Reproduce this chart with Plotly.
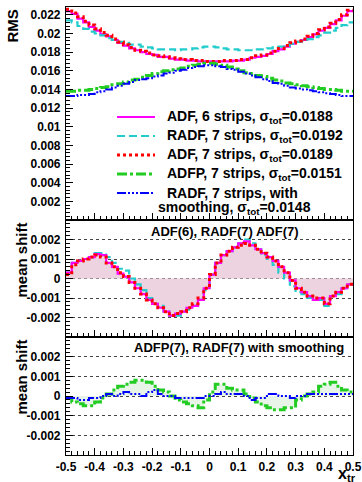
import numpy as np
import plotly.graph_objects as go

# ---------------- data (50 bins from -0.5 to 0.5) ----------------
n_bins = 50
x_lo, x_hi = -0.5, 0.5

rms_adf6 = [0.0224, 0.0221, 0.0216, 0.0212, 0.0207, 0.0203, 0.0199, 0.0197, 0.0193, 0.0190,
            0.0187, 0.0184, 0.0182, 0.0180, 0.0178, 0.0177, 0.0175, 0.0175, 0.0173, 0.0172,
            0.0172, 0.0171, 0.0171, 0.0170, 0.0170, 0.0170, 0.0170, 0.0170, 0.0170, 0.0171,
            0.0171, 0.0172, 0.0174, 0.0175, 0.0176, 0.0178, 0.0181, 0.0183, 0.0186, 0.0189,
            0.0191, 0.0193, 0.0196, 0.0199, 0.0203, 0.0206, 0.0210, 0.0214, 0.0219, 0.0224]
rms_radf7 = [0.0214, 0.0212, 0.0208, 0.0205, 0.0202, 0.0200, 0.0198, 0.0195, 0.0193, 0.0191,
             0.0190, 0.0188, 0.0188, 0.0186, 0.0185, 0.0184, 0.0183, 0.0183, 0.0183, 0.0182,
             0.0183, 0.0183, 0.0184, 0.0185, 0.0186, 0.0186, 0.0185, 0.0184, 0.0183, 0.0183,
             0.0182, 0.0182, 0.0182, 0.0183, 0.0183, 0.0184, 0.0185, 0.0186, 0.0187, 0.0189,
             0.0191, 0.0192, 0.0194, 0.0196, 0.0198, 0.0201, 0.0203, 0.0206, 0.0209, 0.0212]
rms_adf7 = [0.0226, 0.0222, 0.0218, 0.0213, 0.0209, 0.0205, 0.0201, 0.0198, 0.0194, 0.0191,
            0.0188, 0.0185, 0.0182, 0.0181, 0.0179, 0.0177, 0.0176, 0.0175, 0.0174, 0.0173,
            0.0172, 0.0172, 0.0171, 0.0171, 0.0170, 0.0170, 0.0170, 0.0171, 0.0171, 0.0171,
            0.0172, 0.0172, 0.0174, 0.0176, 0.0177, 0.0179, 0.0181, 0.0184, 0.0187, 0.0190,
            0.0192, 0.0194, 0.0197, 0.0200, 0.0204, 0.0207, 0.0211, 0.0215, 0.0220, 0.0225]
rms_adfp7 = [0.0138, 0.0138, 0.0139, 0.0139, 0.0140, 0.0141, 0.0142, 0.0143, 0.0145, 0.0146,
             0.0148, 0.0150, 0.0151, 0.0153, 0.0155, 0.0157, 0.0159, 0.0160, 0.0161, 0.0162,
             0.0163, 0.0165, 0.0166, 0.0167, 0.0168, 0.0168, 0.0167, 0.0166, 0.0164, 0.0162,
             0.0160, 0.0158, 0.0157, 0.0155, 0.0154, 0.0152, 0.0150, 0.0149, 0.0147, 0.0146,
             0.0145, 0.0144, 0.0143, 0.0142, 0.0141, 0.0140, 0.0140, 0.0139, 0.0138, 0.0138]
rms_radf7s = [0.0133, 0.0133, 0.0134, 0.0134, 0.0135, 0.0137, 0.0138, 0.0140, 0.0142, 0.0144,
              0.0146, 0.0148, 0.0150, 0.0151, 0.0152, 0.0154, 0.0155, 0.0157, 0.0158, 0.0160,
              0.0161, 0.0163, 0.0164, 0.0165, 0.0166, 0.0166, 0.0165, 0.0164, 0.0162, 0.0161,
              0.0159, 0.0157, 0.0155, 0.0153, 0.0151, 0.0149, 0.0147, 0.0146, 0.0144, 0.0142,
              0.0141, 0.0140, 0.0139, 0.0138, 0.0137, 0.0136, 0.0135, 0.0134, 0.0133, 0.0133]

shift_adf6 = [0.0003, 0.0008, 0.0009, 0.0010, 0.0011, 0.00125, 0.0012, 0.0008, 0.0006, 0.00025,
              0.0001, -0.0002, -0.0005, -0.0008, -0.0011, -0.0013, -0.0015, -0.0017, -0.0019, -0.0018,
              -0.0017, -0.0015, -0.0014, -0.0011, -0.0005, 0.0002, 0.0008, 0.0012, 0.0014, 0.0016,
              0.0018, 0.0019, 0.0017, 0.0015, 0.0013, 0.0011, 0.0009, 0.0006, 0.0003, -0.0001,
              -0.0005, -0.0007, -0.0009, -0.0011, -0.0010, -0.0013, -0.0009, -0.0007, -0.0005, -0.0003]
shift_radf7 = [0.0003, 0.0008, 0.0009, 0.0010, 0.0011, 0.0013, 0.0013, 0.0011, 0.0008, 0.0005,
               0.0004, 0.0000, -0.0003, -0.0006, -0.0010, -0.0013, -0.0014, -0.0017, -0.0019, -0.0019,
               -0.0017, -0.0016, -0.0014, -0.0011, -0.0006, 0.0002, 0.0008, 0.0012, 0.0014, 0.0016,
               0.0018, 0.0020, 0.0018, 0.0015, 0.0012, 0.0010, 0.0007, 0.0003, 0.0000, -0.0004,
               -0.0007, -0.0008, -0.0010, -0.0011, -0.0011, -0.0014, -0.0009, -0.0008, -0.0005, -0.0003]
shift_adf7 = [0.0002, 0.0007, 0.0009, 0.0010, 0.0011, 0.0012, 0.0011, 0.0008, 0.0006, 0.0003,
              0.0001, -0.0002, -0.0005, -0.0008, -0.0011, -0.0013, -0.0015, -0.0017, -0.0019, -0.0018,
              -0.0017, -0.0015, -0.0013, -0.0010, -0.0005, 0.0002, 0.0008, 0.0012, 0.0014, 0.0016,
              0.0017, 0.0018, 0.0017, 0.0015, 0.0013, 0.0011, 0.0009, 0.0006, 0.0003, -0.0001,
              -0.0005, -0.0007, -0.0009, -0.0010, -0.0010, -0.0013, -0.0009, -0.0007, -0.0005, -0.0003]
shift_adfp7 = [-0.0001, -0.0003, -0.0004, -0.0005, -0.0005, -0.0003, -0.0001, 0.0001, 0.0003, 0.0005,
               0.0006, 0.0007, 0.0008, 0.0008, 0.0007, 0.0005, 0.0003, 0.0002, 0.0000, -0.0002,
               -0.0003, -0.0004, -0.0005, -0.0006, -0.0002, 0.0002, 0.0006, 0.0006, 0.0004, 0.0003,
               0.0003, 0.0001, -0.0001, -0.0003, -0.0005, -0.0006, -0.0007, -0.0007, -0.0006, -0.0006,
               -0.0002, 0.0000, 0.0001, 0.0002, 0.0005, 0.0006, 0.0007, 0.0005, 0.0003, 0.0002]
shift_radf7s = [-0.0001, -0.0001, -0.0002, -0.0002, -0.0001, -0.0001, 0.0000, 0.0001, 0.0000, 0.0001,
                0.0002, 0.0001, 0.0001, 0.0000, 0.0002, 0.0003, 0.0001, 0.0000, 0.0000, -0.0001,
                -0.0001, -0.0001, -0.0001, -0.0001, 0.0000, 0.0000, 0.0001, 0.0002, 0.0001, 0.0001,
                0.0001, 0.0000, -0.0002, -0.0001, -0.0001, 0.0001, 0.0001, 0.0000, 0.0000, -0.0001,
                0.0000, 0.0000, 0.0001, 0.0001, 0.0001, 0.0001, 0.0001, 0.0001, 0.0001, 0.0001]

legend_names = [
    "ADF, 6 strips, σ<sub>tot</sub>=0.0188",
    "RADF, 7 strips, σ<sub>tot</sub>=0.0192",
    "ADF, 7 strips, σ<sub>tot</sub>=0.0189",
    "ADFP, 7 strips, σ<sub>tot</sub>=0.0151",
    "RADF, 7 strips, with",
]
legend_cont = "smoothing, σ<sub>tot</sub>=0.0148"
panel2_label = "ADF(6), RADF(7) ADF(7)"
panel3_label = "ADFP(7), RADF(7) with smoothing"
rms_ticks = [0.002, 0.004, 0.006, 0.008, 0.01, 0.012, 0.014, 0.016, 0.018, 0.02, 0.022]
rms_ticktext = ["0.002", "0.004", "0.006", "0.008", "0.01", "0.012", "0.014", "0.016", "0.018", "0.02", "0.022"]
shift_ticks = [-0.002, -0.001, 0, 0.001, 0.002]
shift_ticktext = ["-0.002", "-0.001", "0", "0.001", "0.002"]
x_ticks = [-0.5, -0.4, -0.3, -0.2, -0.1, 0, 0.1, 0.2, 0.3, 0.4, 0.5]
x_ticktext = ["-0.5", "-0.4", "-0.3", "-0.2", "-0.1", "0", "0.1", "0.2", "0.3", "0.4", "0.5"]

# ---------------- helpers ----------------
edges = np.linspace(x_lo, x_hi, n_bins + 1)


def step_y(v):
    return list(v) + [v[-1]]


C_MAG = "#ff00ff"
C_CYAN = "#22cccc"
C_RED = "#ff0000"
C_GREEN = "#22cc22"
C_BLUE = "#0000ff"
FONT = "Liberation Sans"

styles = [
    dict(color=C_MAG, width=2.2, dash="solid"),
    dict(color=C_CYAN, width=2.2, dash="8px,4px"),
    dict(color=C_RED, width=3, dash="3px,3px"),
    dict(color=C_GREEN, width=3, dash="10px,3px,3px,3px"),
    dict(color=C_BLUE, width=2, dash="9px,2px,2px,2px,2px,2px,2px,2px"),
]

fig = go.Figure()

# top panel: RMS
for vals, st, name in zip([rms_adf6, rms_radf7, rms_adf7, rms_adfp7, rms_radf7s], styles, legend_names):
    fig.add_trace(go.Scatter(x=edges, y=step_y(vals), mode="lines", line_shape="hv",
                             line=st, name=name, showlegend=False, xaxis="x", yaxis="y"))

# middle panel
fig.add_trace(go.Scatter(x=edges, y=step_y(shift_adf6), mode="lines", line_shape="hv",
                         line=dict(width=0), fill="tozeroy", fillcolor="#ecd3df",
                         showlegend=False, hoverinfo="skip", xaxis="x2", yaxis="y2"))
for vals, st in zip([shift_radf7, shift_adf6, shift_adf7], [styles[1], styles[0], styles[2]]):
    fig.add_trace(go.Scatter(x=edges, y=step_y(vals), mode="lines", line_shape="hv",
                             line=st, showlegend=False, xaxis="x2", yaxis="y2"))

# bottom panel
fig.add_trace(go.Scatter(x=edges, y=step_y(shift_adfp7), mode="lines", line_shape="hv",
                         line=dict(width=0), fill="tozeroy", fillcolor="#e8f4e8",
                         showlegend=False, hoverinfo="skip", xaxis="x3", yaxis="y3"))
for vals, st in zip([shift_adfp7, shift_radf7s], [styles[3], styles[4]]):
    fig.add_trace(go.Scatter(x=edges, y=step_y(vals), mode="lines", line_shape="hv",
                             line=st, showlegend=False, xaxis="x3", yaxis="y3"))

# ---------------- layout ----------------
H_PLOT = 448.0
W_PLOT = 287.0
d_bot = (0.0, 118 / H_PLOT)
d_mid = (118 / H_PLOT, 235 / H_PLOT)
d_top = (235 / H_PLOT, 1.0)


def px_x(px):
    return (px - 66) / W_PLOT


def px_y(py):
    return 1 - (py - 7) / H_PLOT


tickfont = dict(family=FONT, size=12, color="black", weight="bold")


def xax(anchor, labels):
    return dict(domain=[0, 1], anchor=anchor, range=[x_lo, x_hi], tickvals=x_ticks,
                ticktext=x_ticktext, showticklabels=labels, ticks="inside", ticklen=7,
                tickwidth=1, tickcolor="black", automargin=False,
                minor=dict(dtick=0.02, ticklen=3.5, ticks="inside", tickcolor="black"),
                showline=True, linecolor="black", linewidth=1.2, mirror=True,
                showgrid=False, zeroline=False, tickfont=tickfont)


def yax(anchor, domain, rng, tv, tt, grid, mdt):
    return dict(domain=list(domain), anchor=anchor, range=rng, tickvals=tv, ticktext=tt,
                ticks="inside", ticklen=7, tickwidth=1, tickcolor="black", automargin=False,
                minor=dict(dtick=mdt, ticklen=3.5, ticks="inside", tickcolor="black", showgrid=False),
                showline=True, linecolor="black", linewidth=1.2, mirror=True,
                showgrid=grid, gridcolor="#444444", griddash="dot", gridwidth=1,
                zeroline=False, tickfont=tickfont, ticklabelstandoff=2)


fig.update_layout(
    width=362, height=482,
    margin=dict(l=66, r=9, t=7, b=27, autoexpand=False),
    paper_bgcolor="white", plot_bgcolor="white",
    font=dict(family=FONT, size=12, color="black"),
    xaxis=xax("y", False),
    xaxis2=xax("y2", False),
    xaxis3=xax("y3", True),
    yaxis=yax("x", d_top, [0, 0.02284], rms_ticks, rms_ticktext, False, 0.0004),
    yaxis2=yax("x2", d_mid, [-0.003, 0.003], shift_ticks, shift_ticktext, True, 0.0002),
    yaxis3=yax("x3", d_bot, [-0.003, 0.003], shift_ticks, shift_ticktext, True, 0.0002),
    showlegend=False,
)

# legend (drawn as samples + labels inside the top panel)
leg_font = dict(family=FONT, size=14, color="black", weight="bold")
leg_rows_px = [117, 136, 155, 174, 193]
for st, name, row in zip(styles, legend_names, leg_rows_px):
    fig.add_shape(type="line", xref="paper", yref="paper", x0=px_x(117), x1=px_x(155),
                  y0=px_y(row), y1=px_y(row), line=st)
    fig.add_annotation(text=name, xref="paper", yref="paper", x=px_x(165), y=px_y(row),
                       xanchor="left", yanchor="middle", showarrow=False, font=leg_font)
fig.add_annotation(text=legend_cont, xref="paper", yref="paper", x=px_x(313), y=px_y(208),
                   xanchor="right", yanchor="middle", showarrow=False, font=leg_font)

ann_font = dict(family=FONT, size=13, color="black", weight="bold")
title_font = dict(family=FONT, size=15, color="black", weight="bold")
fig.add_annotation(text="RMS", xref="paper", yref="paper", x=px_x(12), y=px_y(8),
                   xanchor="center", yanchor="top", textangle=-90, showarrow=False, font=title_font)
fig.add_annotation(text="mean shift", xref="paper", yref="paper", x=px_x(21), y=px_y(221),
                   xanchor="center", yanchor="top", textangle=-90, showarrow=False, font=title_font)
fig.add_annotation(text="mean shift", xref="paper", yref="paper", x=px_x(21), y=px_y(338),
                   xanchor="center", yanchor="top", textangle=-90, showarrow=False, font=title_font)
fig.add_annotation(text=panel2_label, xref="paper", yref="paper", x=px_x(301), y=px_y(231),
                   xanchor="right", yanchor="middle", showarrow=False, font=ann_font)
fig.add_annotation(text=panel3_label, xref="paper", yref="paper", x=px_x(346), y=px_y(347),
                   xanchor="right", yanchor="middle", showarrow=False, font=ann_font)
fig.add_annotation(text="x<sub>tr</sub>", xref="paper", yref="paper", x=px_x(357), y=px_y(464),
                   xanchor="right", yanchor="top", showarrow=False, borderpad=0,
                   font=dict(family=FONT, size=16, color="black", weight="bold"))

fig.write_html("out.html", config={"displayModeBar": False},
               post_script="document.body.style.margin='0';document.body.style.padding='0';")
